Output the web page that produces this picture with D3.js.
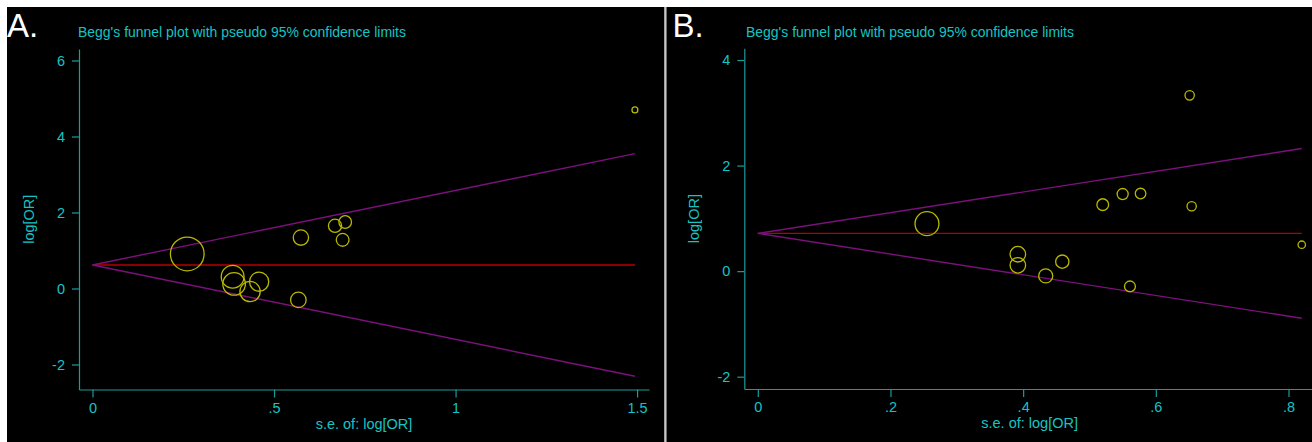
<!DOCTYPE html>
<html>
<head>
<meta charset="utf-8">
<script src="https://cdn.jsdelivr.net/npm/d3@7"></script>
<style>
  html, body { margin: 0; padding: 0; background: #fff; }
  svg text { font-family: "Liberation Sans", Arial, sans-serif; }
</style>
</head>
<body>
<svg id="chart" width="1312" height="442"></svg>
<script>
// Panel A data: standard error and log odds ratio per study
const seA = [0.261, 0.386, 0.390, 0.434, 0.459, 0.567, 0.574, 0.668, 0.689, 0.696, 1.494];
const logOrA = [0.91, 0.31, 0.12, -0.08, 0.18, -0.30, 1.34, 1.65, 1.28, 1.75, 4.70];
const pooledA = 0.62;
const xTicksA = [0, 0.5, 1, 1.5];
const yTicksA = [-2, 0, 2, 4, 6];

// Panel B data
const seB = [0.255, 0.392, 0.392, 0.434, 0.459, 0.520, 0.550, 0.561, 0.577, 0.651, 0.654, 0.820];
const logOrB = [0.90, 0.32, 0.11, -0.09, 0.18, 1.26, 1.46, -0.29, 1.47, 3.33, 1.23, 0.50];
const pooledB = 0.715;
const xTicksB = [0, 0.2, 0.4, 0.6, 0.8];
const yTicksB = [-2, 0, 2, 4];

const titleText = "Begg's funnel plot with pseudo 95% confidence limits";
const xTitle = "s.e. of: log[OR]";
const yTitle = "log[OR]";
const z = 1.96;

const axisLine = "#1a9c9c";
const axisText = "#16c4c4";

const svg = d3.select("#chart");

// white frame, two black panels, grey separator
svg.append("rect").attr("width", 1312).attr("height", 442).attr("fill", "#fff");
svg.append("rect").attr("x", 7).attr("y", 7).attr("width", 657.5).attr("height", 435).attr("fill", "#000");
svg.append("rect").attr("x", 664.5).attr("y", 7).attr("width", 2).attr("height", 435).attr("fill", "#c4c4c4");
svg.append("rect").attr("x", 666.5).attr("y", 7).attr("width", 646).attr("height", 435).attr("fill", "#000");

// Stata-style tick labels: .5 instead of 0.5
const fmt = (v) => String(+v.toFixed(2)).replace(/^0\./, ".").replace(/^-0\./, "-.");

function drawPanel(cfg) {
  const g = svg.append("g");

  const x = d3.scaleLinear().domain([0, cfg.xTicks[cfg.xTicks.length - 1]]).range(cfg.xRange);
  const y = d3.scaleLinear().domain([cfg.yTicks[0], cfg.yTicks[cfg.yTicks.length - 1]]).range(cfg.yRange);
  const f = cfg.frame;

  // axis scales stretched to the frame so the domain line spans it
  const xAx = x.copy().domain([x.invert(f.left), x.invert(f.right)]).range([f.left, f.right]);
  const yAx = y.copy().domain([y.invert(f.bottom), y.invert(f.top)]).range([f.bottom, f.top]);

  const gx = g.append("g")
    .attr("transform", `translate(0,${f.bottom})`)
    .call(d3.axisBottom(xAx).tickValues(cfg.xTicks).tickFormat(fmt).tickSize(8).tickSizeOuter(0).tickPadding(2));
  const gy = g.append("g")
    .attr("transform", `translate(${f.left},0)`)
    .call(d3.axisLeft(yAx).tickValues(cfg.yTicks).tickFormat(fmt).tickSize(7).tickSizeOuter(0).tickPadding(7));

  [gx, gy].forEach((a) => {
    a.select(".domain").attr("stroke", axisLine).attr("stroke-width", 1.2);
    a.selectAll(".tick line").attr("stroke", axisLine).attr("stroke-width", 1.2);
    a.selectAll(".tick text").attr("fill", axisText).style("font-size", "14.5px");
  });
  gx.selectAll(".tick text").attr("dy", "0.9em");

  // axis titles
  g.append("text")
    .attr("x", (f.left + f.right) / 2)
    .attr("y", f.bottom + 39)
    .attr("text-anchor", "middle")
    .attr("fill", axisText)
    .style("font-size", "14.5px")
    .text(xTitle);
  g.append("text")
    .attr("transform", `translate(${cfg.yTitleX},${(f.top + f.bottom) / 2}) rotate(-90)`)
    .attr("text-anchor", "middle")
    .attr("fill", axisText)
    .style("font-size", "14.5px")
    .text(yTitle);

  // chart title and panel letter
  g.append("text")
    .attr("x", cfg.titleX)
    .attr("y", 36.5)
    .attr("fill", axisText)
    .attr("textLength", 328)
    .attr("lengthAdjust", "spacingAndGlyphs")
    .style("font-size", "14.5px")
    .text(titleText);
  g.append("text")
    .attr("x", cfg.letterX)
    .attr("y", 37)
    .attr("fill", "#fff")
    .style("font-size", "33px")
    .text(cfg.letter);

  const seMax = d3.max(cfg.se);

  // pooled estimate
  g.append("line")
    .attr("x1", x(0)).attr("x2", x(seMax))
    .attr("y1", y(cfg.pooled)).attr("y2", y(cfg.pooled))
    .attr("stroke", "#b80000").attr("stroke-width", 1.4);

  // pseudo 95% limits
  [1, -1].forEach((s) => {
    g.append("line")
      .attr("x1", x(0)).attr("y1", y(cfg.pooled))
      .attr("x2", x(seMax)).attr("y2", y(cfg.pooled + s * z * seMax))
      .attr("stroke", "#7c107c").attr("stroke-width", 1.4);
  });

  // studies, marker size from precision 1/se
  const r = d3.scaleLinear().domain([0, 1]).range([0, cfg.rUnit]);
  g.append("g")
    .selectAll("circle")
    .data(cfg.se.map((s, i) => ({ se: s, lor: cfg.lor[i] })))
    .enter()
    .append("circle")
    .attr("cx", (d) => x(d.se))
    .attr("cy", (d) => y(d.lor))
    .attr("r", (d) => r(1 / d.se))
    .attr("fill", "none")
    .attr("stroke", "#b8b800")
    .attr("stroke-width", 1.3);
}

drawPanel({
  letter: "A.", letterX: 7, titleX: 78, yTitleX: 34,
  se: seA, lor: logOrA, pooled: pooledA, xTicks: xTicksA, yTicks: yTicksA,
  xRange: [92.5, 637.1], yRange: [364.5, 60.5],
  frame: { left: 79, right: 649, top: 49, bottom: 389.5 },
  rUnit: 4.4
});

drawPanel({
  letter: "B.", letterX: 672.5, titleX: 746, yTitleX: 699,
  se: seB, lor: logOrB, pooled: pooledB, xTicks: xTicksB, yTicks: yTicksB,
  xRange: [757.8, 1288.5], yRange: [376.7, 60],
  frame: { left: 744.3, right: 1315, top: 48.3, bottom: 389 },
  rUnit: 3.05
});
</script>
</body>
</html>
